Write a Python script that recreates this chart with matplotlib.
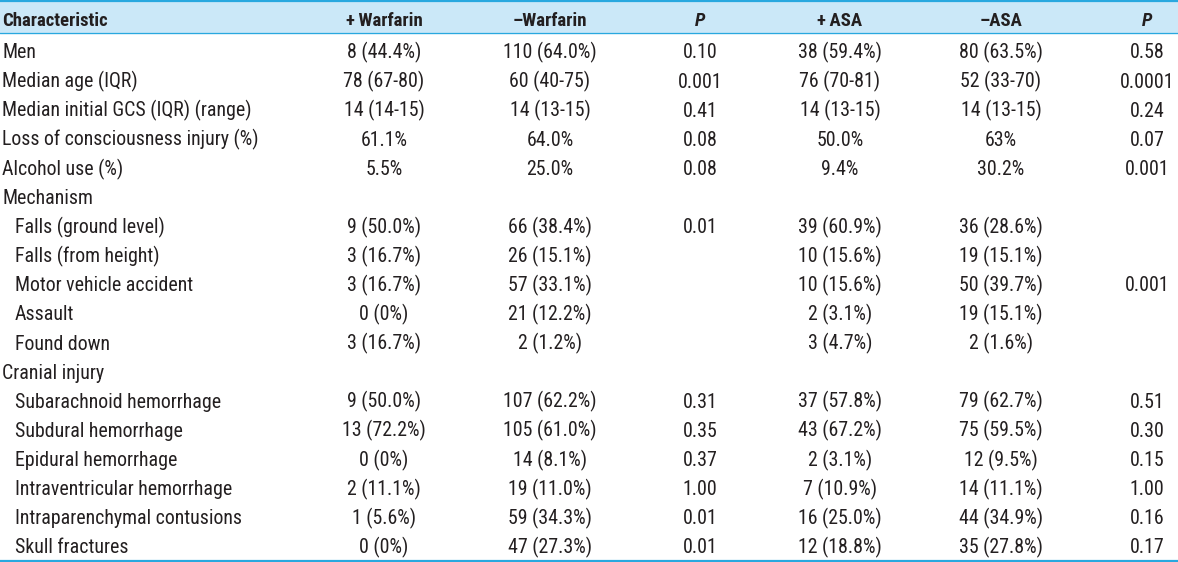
import matplotlib
matplotlib.use('Agg')
import matplotlib.pyplot as plt
from matplotlib import font_manager

# Datos de la tabla
characteristics = ['Men', 'Median age (IQR)', 'Median initial GCS (IQR) (range)',
                   'Loss of consciousness injury (%)', 'Alcohol use (%)', 'Mechanism',
                   'Falls (ground level)', 'Falls (from height)', 'Motor vehicle accident',
                   'Assault', 'Found down', 'Cranial injury',
                   'Subarachnoid hemorrhage', 'Subdural hemorrhage', 'Epidural hemorrhage',
                   'Intraventricular hemorrhage', 'Intraparenchymal contusions', 'Skull fractures']
indented = [False, False, False, False, False, False,
            True, True, True, True, True, False,
            True, True, True, True, True, True]
plus_warfarin = ['8 (44.4%)', '78 (67-80)', '14 (14-15)', '61.1%', '5.5%', '',
                 '9 (50.0%)', '3 (16.7%)', '3 (16.7%)', '0 (0%)', '3 (16.7%)', '',
                 '9 (50.0%)', '13 (72.2%)', '0 (0%)', '2 (11.1%)', '1 (5.6%)', '0 (0%)']
minus_warfarin = ['110 (64.0%)', '60 (40-75)', '14 (13-15)', '64.0%', '25.0%', '',
                  '66 (38.4%)', '26 (15.1%)', '57 (33.1%)', '21 (12.2%)', '2 (1.2%)', '',
                  '107 (62.2%)', '105 (61.0%)', '14 (8.1%)', '19 (11.0%)', '59 (34.3%)', '47 (27.3%)']
p_warfarin = ['0.10', '0.001', '0.41', '0.08', '0.08', '',
              '0.01', '', '', '', '', '',
              '0.31', '0.35', '0.37', '1.00', '0.01', '0.01']
plus_asa = ['38 (59.4%)', '76 (70-81)', '14 (13-15)', '50.0%', '9.4%', '',
            '39 (60.9%)', '10 (15.6%)', '10 (15.6%)', '2 (3.1%)', '3 (4.7%)', '',
            '37 (57.8%)', '43 (67.2%)', '2 (3.1%)', '7 (10.9%)', '16 (25.0%)', '12 (18.8%)']
minus_asa = ['80 (63.5%)', '52 (33-70)', '14 (13-15)', '63%', '30.2%', '',
             '36 (28.6%)', '19 (15.1%)', '50 (39.7%)', '19 (15.1%)', '2 (1.6%)', '',
             '79 (62.7%)', '75 (59.5%)', '12 (9.5%)', '14 (11.1%)', '44 (34.9%)', '35 (27.8%)']
p_asa = ['0.58', '0.0001', '0.24', '0.07', '0.001', '',
         '', '', '0.001', '', '', '',
         '0.51', '0.30', '0.15', '1.00', '0.16', '0.17']

headers = ['+\u2009Warfarin', '\u2013Warfarin', 'P', '+\u2009ASA', '\u2013ASA', 'P']

# Fuente condensada, la primera que exista
names = {f.name for f in font_manager.fontManager.ttflist}
for fam in ['Roboto Condensed', 'Liberation Sans Narrow', 'Archivo Narrow',
            'Barlow Semi Condensed', 'Roboto']:
    if fam in names:
        break
plt.rcParams['font.family'] = [fam, 'DejaVu Sans']

W, H = 1178, 562
fig = plt.figure(figsize=(W / 100, H / 100), dpi=100)
ax = fig.add_axes([0, 0, 1, 1])
ax.set_xlim(0, W)
ax.set_ylim(H, 0)
ax.axis('off')

txt = '#231f20'
blue = '#29a8df'
fs = 14.3
fs_head = 13.5

# Cabecera
head_h = 33
ax.axhspan(0, head_h, color='#cbe8f8', zorder=0)
ax.axhline(1.2, color=blue, lw=1.6)
ax.axhline(head_h, color=blue, lw=0.9)
ax.axhline(H - 1.5, color=blue, lw=1.6)

col_x = [384, 550, 700, 840, 1001, 1147]
ax.text(2, 26.5, 'Characteristic', fontsize=fs_head, fontweight='bold',
        color=txt, va='baseline', ha='left')
for x, h in zip(col_x, headers):
    style = 'italic' if h == 'P' else 'normal'
    ax.text(x, 26.5, h, fontsize=fs_head, fontweight='bold', fontstyle=style,
            color=txt, va='baseline', ha='center')

# Filas
row_h = 29.1
columns = [plus_warfarin, minus_warfarin, p_warfarin, plus_asa, minus_asa, p_asa]
for i, name in enumerate(characteristics):
    y = 58.5 + row_h * i
    ax.text(15 if indented[i] else 2, y, name, fontsize=fs, color=txt,
            va='baseline', ha='left')
    for x, col in zip(col_x, columns):
        ax.text(x, y, col[i], fontsize=fs, color=txt, va='baseline', ha='center')

fig.savefig('out.png', dpi=100)
